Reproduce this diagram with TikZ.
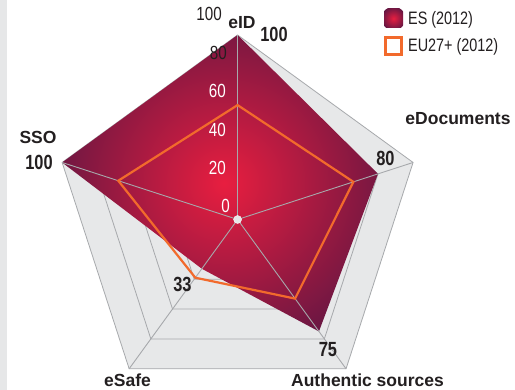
\documentclass[tikz,border=0pt]{standalone}
\usepackage{fontspec}
\setmainfont{Liberation Sans}
\newfontfamily\condfont[FakeStretch=0.8]{Liberation Sans}
\definecolor{stripgray}{HTML}{E6E7E8}
\definecolor{gridfill}{HTML}{E7E8E9}
\definecolor{gridgray}{HTML}{A7A9AC}
\definecolor{esin}{HTML}{E81E40}
\definecolor{esout}{HTML}{621642}
\definecolor{euorange}{HTML}{F26A2C}
\definecolor{txt}{HTML}{231F20}
\begin{document}
\begin{tikzpicture}[x=1pt,y=1pt,
  gridline/.style={draw=gridgray, line width=0.8pt},
  spoke/.style={draw=gridgray, line width=0.9pt},
  eupoly/.style={draw=euorange, line width=2.2pt, line join=miter},
  axislabel/.style={font=\fontsize{17.5}{20}\selectfont\bfseries, text=txt, inner sep=0pt, anchor=base},
  vallabel/.style={font=\condfont\fontsize{20.5}{22}\selectfont\bfseries, text=txt, inner sep=0pt, anchor=base},
  ticklabel/.style={font=\condfont\fontsize{19}{21}\selectfont, inner sep=0pt, anchor=base east},
  legtext/.style={font=\condfont\fontsize{18}{20}\selectfont, text=txt, inner sep=0pt, anchor=base west}]
\useasboundingbox (0,0) rectangle (515,390);
\fill[white] (0,0) rectangle (515,390);
\fill[stripgray] (0,0) rectangle (7.3,390);
\coordinate (C) at (237.6,170.5);
\def\R{184.5}
% outer pentagon vertices
\foreach \n/\a in {eid/90, edoc/18, auth/-54, esafe/-126, sso/162}
  \coordinate (\n) at ([shift={(\a:\R)}]C);
% grid
\filldraw[fill=gridfill, gridline] (eid) -- (edoc) -- (auth) -- (esafe) -- (sso) -- cycle;
\foreach \r in {0.2,0.4,0.6,0.8}
  \draw[gridline, shift={(C)}] (90:{\R*\r}) -- (18:{\R*\r}) -- (-54:{\R*\r}) -- (-126:{\R*\r}) -- (162:{\R*\r}) -- cycle;
% ES polygon
\coordinate (es1) at ([shift={(90:\R)}]C);
\coordinate (es2) at ([shift={(18:{0.8*\R})}]C);
\coordinate (es3) at ([shift={(-54:{0.75*\R})}]C);
\coordinate (es4) at ([shift={(-126:{0.33*\R})}]C);
\coordinate (es5) at ([shift={(162:\R)}]C);
\begin{scope}
  \clip (es1) -- (es2) -- (es3) -- (es4) -- (es5) -- cycle;
  \shade[inner color=esin, outer color=esout] (224,207) circle (185);
\end{scope}
% spokes
\foreach \n in {eid, edoc, auth, esafe, sso}
  \draw[spoke] (C) -- (\n);
% EU polygon
\coordinate (eu1) at ([shift={(90:{0.62*\R})}]C);
\coordinate (eu2) at ([shift={(18:{0.66*\R})}]C);
\coordinate (eu3) at ([shift={(-54:{0.53*\R})}]C);
\coordinate (eu4) at ([shift={(-126:{0.39*\R})}]C);
\coordinate (eu5) at ([shift={(162:{0.68*\R})}]C);
\draw[eupoly] (eu1) -- (eu2) -- (eu3) -- (eu4) -- (eu5) -- cycle;
% centre dot
\filldraw[fill=stripgray, draw=white, line width=0.4pt] (C) circle (4);
% tick labels
\node[ticklabel, text=txt] (t100) at (222,369) {100};
\node[ticklabel, text=txt] (t80) at (227,330) {80};
\node[ticklabel, text=white] (t60) at (226,292) {60};
\node[ticklabel, text=white] (t40) at (226,253) {40};
\node[ticklabel, text=white] (t20) at (226,215) {20};
\node[ticklabel, text=white] (t0) at (230,177) {0};
% axis labels
\node[axislabel] (leid) at (242,361.7) {eID};
\node[axislabel] (ledoc) at (458,265) {eDocuments};
\node[axislabel] (lsso) at (38,246.7) {SSO};
\node[axislabel] (lesafe) at (127.5,3.2) {eSafe};
\node[axislabel] (lauth) at (367.5,3.3) {Authentic sources};
% value labels
\node[vallabel] (veid) at (274,348.3) {100};
\node[vallabel] (vedoc) at (385.5,224.5) {80};
\node[vallabel] (vsso) at (39,220) {100};
\node[vallabel] (vesafe) at (182.5,98.3) {33};
\node[vallabel] (vauth) at (328,33.3) {75};
% legend
\begin{scope}
  \clip (384,362) rectangle (403,381);
  \shade[inner color=esin, outer color=esout] (393.5,371.5) circle (12);
\end{scope}
\node[legtext] (les) at (408,365) {ES (2012)};
\draw[draw=euorange, line width=3pt, fill=white] (385.5,335.5) rectangle (401.5,352.5);
\node[legtext] (leu) at (408,338.3) {EU27+ (2012)};
\end{tikzpicture}
\end{document}
